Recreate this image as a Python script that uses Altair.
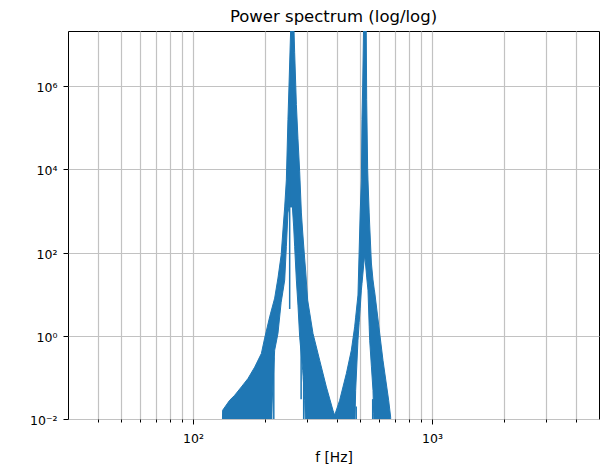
import altair as alt
import pandas as pd

# ---- spectrum band (Hz, power) ----
freq_hz = [132.5, 133.1, 142.4, 149.5, 159.4, 169.9, 181.2, 193.3, 199.5, 209.4,
           211.4, 219.7, 226.8, 233.9, 238.0, 242.0, 245.9, 249.7, 252.2, 257.1,
           260.6, 263.9, 266.4, 270.8, 275.0, 279.6, 284.2, 287.8, 293.4, 296.2,
           301.9, 317.8, 338.9, 361.6, 385.3, 391.7, 411.0, 438.4, 460.0, 474.9,
           479.5, 490.3, 496.0, 500.8, 506.6, 509.6, 513.0, 518.0, 523.0, 530.6,
           533.2, 538.3, 539.9, 546.2, 548.8, 557.9, 566.6, 570.4, 573.2, 576.0,
           623.7, 658.9, 671.8, 672.4]

power_upper = [0.005, 0.0162, 0.0282, 0.0372, 0.0589, 0.0938, 0.176, 0.375, 0.875, 2.85,
               3.5, 8.0, 24.3, 87, 348, 1245, 5560, 1.55e5, 9.8e5, 4e7,
               4e7, 4e7, 6.3e6, 3.6e5, 5.4e4, 8660, 893, 311, 70, 36,
               7.2, 1.14, 0.259, 0.0589, 0.0162, 0.0123, 0.0282, 0.124, 0.45, 1.64,
               2.8, 9.5, 115, 893, 5560, 1.55e5, 9.8e5, 4e7, 4e7, 4e7,
               4.7e5, 9670, 5560, 893, 459, 56, 22, 16.5, 13.2, 11.2,
               0.259, 0.0282, 0.011, 0.005]

power_lower = [0.005, 0.005, 0.005, 0.005, 0.005, 0.005, 0.005, 0.005, 0.005, 0.005,
               0.005, 0.45, 1.14, 6.4, 11.8, 21.8, 138, 893, 1245, 1245,
               1245, 411, 138, 21.8, 5.45, 0.925, 0.328, 0.149, 0.0282, 0.005,
               0.005, 0.005, 0.005, 0.005, 0.005, 0.005, 0.005, 0.005, 0.005, 0.005,
               0.049, 0.78, 2.1, 4.6, 12.5, 17.8, 27.2, 50, 87, 36,
               25.7, 14.8, 12.5, 1.7, 0.78, 0.186, 0.049, 0.0137, 0.005, 0.005,
               0.005, 0.005, 0.005, 0.005]

# thin single-bin spikes
spike_freq = [213.4, 217.9, 253.9, 283.5, 290.6, 482.0, 565.0]
spike_low = [0.005, 0.005, 4.4, 0.03, 0.005, 0.005, 0.005]
spike_high = [0.45, 0.3, 2e5, 0.9, 0.1, 0.02, 0.03]

x_ticks = [40, 50, 60, 70, 80, 90, 100, 200, 300, 400, 500, 600, 700, 800, 900,
           1000, 2000, 3000, 4000]
y_ticks = [0.01, 1, 100, 10000, 1000000]

band = pd.DataFrame({"f": freq_hz, "upper": power_upper, "lower": power_lower})
spikes = pd.DataFrame({"f": spike_freq, "lo": spike_low, "hi": spike_high})

FONT = "DejaVu Sans"
BLUE = "#1f77b4"
GRID = "#c2c2c2"

xscale = alt.Scale(type="log", domain=[30, 5000], nice=False)
yscale = alt.Scale(type="log", domain=[0.01, 2.1e7], nice=False)

xaxis = alt.Axis(
    values=x_ticks,
    labelExpr="datum.value == 100 ? '10²' : (datum.value == 1000 ? '10³' : '')",
    grid=True, gridColor=GRID, gridWidth=1.2,
    domain=False,
    ticks=True, tickColor="black", tickWidth=1,
    tickSize={"condition": {"test": "datum.value == 100 || datum.value == 1000", "value": 5}, "value": 3},
    labelFont=FONT, labelFontSize=12.5, labelColor="black",
    labelBaseline="alphabetic", labelPadding=18.5,
    labelOverlap=False, labelFlush=False,
    title="f [Hz]", titleFont=FONT, titleFontSize=13.8, titleFontWeight="normal",
    titleColor="black", titleBaseline="alphabetic", titleY=42.5,
)

yaxis = alt.Axis(
    values=y_ticks,
    labelExpr="datum.value < 0.1 ? '10⁻²' : (datum.value < 10 ? '10⁰' : (datum.value < 1000 ? '10²' : (datum.value < 100000 ? '10⁴' : '10⁶')))",
    grid=True, gridColor=GRID, gridWidth=1.2,
    domain=False,
    ticks=True, tickColor="black", tickWidth=1, tickSize=5,
    labelFont=FONT, labelFontSize=12.5, labelColor="black",
    labelPadding=6, labelOffset=1.5,
    labelOverlap=False, labelFlush=False,
    title="",
)

area = alt.Chart(band).mark_area(
    color=BLUE, opacity=1, clip=True, interpolate="linear",
    stroke=BLUE, strokeWidth=1,
).encode(
    x=alt.X("f:Q", scale=xscale, axis=xaxis),
    y=alt.Y("upper:Q", scale=yscale, axis=yaxis),
    y2=alt.Y2("lower:Q"),
)

rules = alt.Chart(spikes).mark_rule(color=BLUE, strokeWidth=1.5, clip=True).encode(
    x=alt.X("f:Q", scale=xscale, axis=xaxis),
    y=alt.Y("lo:Q", scale=yscale, axis=yaxis),
    y2=alt.Y2("hi:Q"),
)

chart = alt.layer(area, rules).properties(
    width=531,
    height=388,
    padding={"left": 68, "top": 31, "right": 1, "bottom": 49},
    autosize=alt.AutoSizeParams(type="none"),
    background="white",
    title=alt.TitleParams(
        text="Power spectrum (log/log)", font=FONT, fontSize=16.5,
        fontWeight="normal", color="black", offset=6, anchor="middle", frame="group",
    ),
).configure_view(stroke="black", strokeWidth=1)

chart.save("out.html", embed_options={"renderer": "svg", "actions": False})
